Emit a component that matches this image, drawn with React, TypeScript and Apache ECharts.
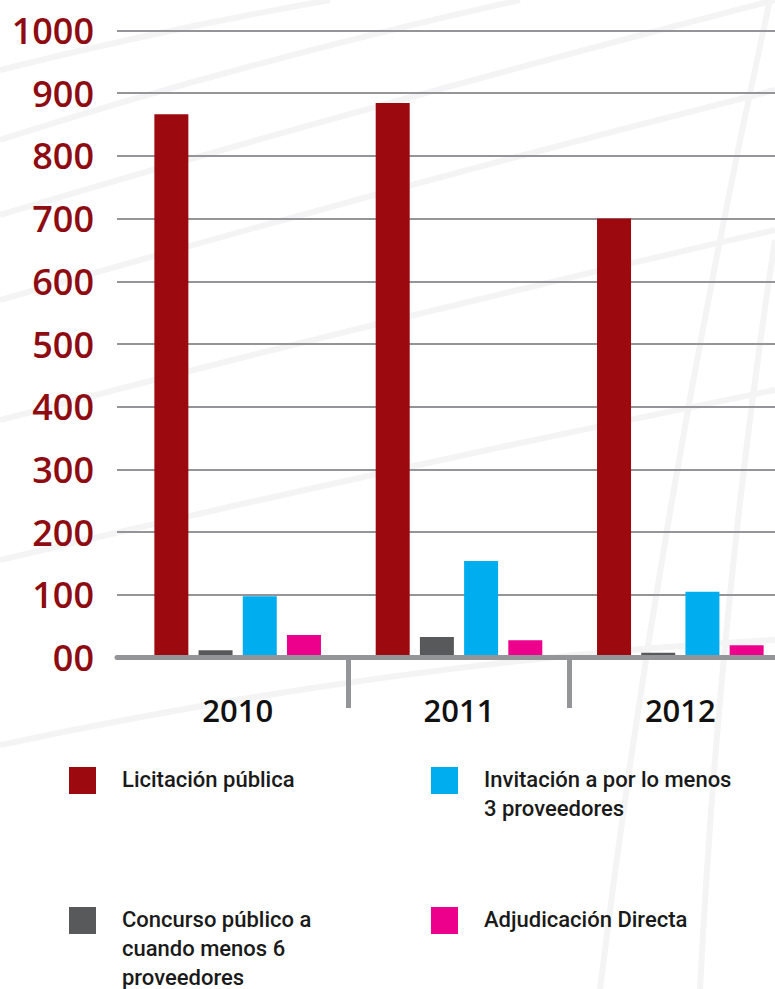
import React, { useEffect, useRef } from "react";
import * as echarts from "echarts";

const categories = ["2010", "2011", "2012"];
const seriesNames = [
  "Licitación pública",
  "Concurso público a cuando menos 6 proveedores",
  "Invitación a por lo menos 3 proveedores",
  "Adjudicación Directa",
];
const licitacion = [866, 884, 700];
const concurso = [12, 33, 8];
const invitacion = [98, 154, 105];
const adjudicacion = [36, 28, 20];
const seriesValues = [licitacion, concurso, invitacion, adjudicacion];
const seriesColors = ["#9c0a10", "#58595b", "#00aeef", "#ec008c"];

const legendLines = [
  ["Licitación pública"],
  ["Concurso público a", "cuando menos 6", "proveedores"],
  ["Invitación a por lo menos", "3 proveedores"],
  ["Adjudicación Directa"],
];
// layout slots for legend items (same order as series)
const legendSlots = [
  { x: 69, y: 767 },
  { x: 69, y: 907 },
  { x: 431, y: 767 },
  { x: 431, y: 907 },
];

const decorCurves = [
  [0, 70, 160, 30, 330, 0],
  [0, 140, 250, 60, 520, 0],
  [0, 215, 350, 110, 775, 0],
  [0, 300, 380, 190, 775, 90],
  [0, 420, 380, 320, 775, 230],
  [0, 560, 380, 470, 775, 390],
  [0, 745, 400, 660, 775, 640],
  [770, 0, 660, 500, 600, 989],
  [775, 240, 720, 600, 700, 989],
];

export default function App() {
  const ref = useRef<HTMLDivElement>(null);
  useEffect(() => {
    if (!ref.current) return;
    const chart = echarts.init(ref.current, undefined, { renderer: "svg" });

    const graphics: any[] = [];
    decorCurves.forEach((c) => {
      graphics.push({
        type: "bezierCurve",
        z: -10,
        silent: true,
        shape: { x1: c[0], y1: c[1], cpx1: c[2], cpy1: c[3], x2: c[4], y2: c[5] },
        style: { stroke: "#f4f4f4", lineWidth: 6, fill: null },
      });
    });
    seriesNames.forEach((name, i) => {
      const s = legendSlots[i];
      graphics.push({
        type: "rect",
        shape: { x: s.x, y: s.y, width: 27, height: 27 },
        style: { fill: seriesColors[i] },
      });
      graphics.push({
        type: "text",
        x: s.x + 53,
        y: s.y - 2.5,
        style: {
          text: legendLines[i].join("\n"),
          fontSize: 22,
          fontFamily: "Roboto",
          fontWeight: 500,
          fill: "#1a1a1a",
          lineHeight: 29,
          verticalAlign: "top",
          align: "left",
        },
      });
    });

    const option: any = {
      animation: false,
      backgroundColor: "#ffffff",
      grid: [
        { left: 117, right: 0, top: 30.3, height: 627.4, outerBoundsMode: "none" },
        { left: 127, width: 664, top: 30.3, height: 627.4, outerBoundsMode: "none" },
        { left: 127, width: 664, top: 658, height: 50, outerBoundsMode: "none" },
      ],
      xAxis: [
        {
          gridIndex: 0,
          type: "category",
          data: categories,
          z: 10,
          axisLine: { show: true, lineStyle: { color: "#939598", width: 5 } },
          axisTick: { show: false },
          axisLabel: { show: false },
          splitLine: { show: false },
        },
        {
          gridIndex: 1,
          type: "category",
          data: categories,
          axisLine: { show: false },
          axisTick: { show: false },
          splitLine: { show: false },
          axisLabel: {
            fontSize: 31,
            fontWeight: 600,
            fontFamily: "Open Sans",
            color: "#111111",
            margin: 52,
            verticalAlign: "middle",
          },
        },
        {
          gridIndex: 2,
          type: "category",
          data: categories,
          axisLine: { show: false },
          axisTick: { show: false },
          axisLabel: { show: false },
          splitLine: {
            show: true,
            showMinLine: false,
            showMaxLine: false,
            lineStyle: { color: "#939598", width: 5 },
          },
        },
      ],
      yAxis: [
        {
          gridIndex: 0,
          type: "value",
          min: 0,
          max: 1000,
          interval: 100,
          axisLine: { show: false },
          axisTick: { show: false },
          axisLabel: {
            formatter: (v: number) => (v === 0 ? "00" : String(v)),
            color: "#8e0b12",
            fontSize: 36,
            fontFamily: "Open Sans",
            fontWeight: 600,
            margin: 23,
          },
          splitLine: { show: true, lineStyle: { color: "#939598", width: 2 } },
        },
        { gridIndex: 1, type: "value", min: 0, max: 1000, interval: 100, show: false },
        { gridIndex: 2, type: "value", show: false },
      ],
      series: seriesNames.map((name, i) => ({
        name,
        type: "bar",
        xAxisIndex: 1,
        yAxisIndex: 1,
        data: seriesValues[i],
        barWidth: 34,
        barGap: "30%",
        itemStyle: { color: seriesColors[i] },
      })),
      graphic: graphics,
    };
    chart.setOption(option);
    return () => chart.dispose();
  }, []);
  return (
    <div
      ref={ref}
      style={{ position: "absolute", left: 0, top: 0, width: 775, height: 989 }}
    />
  );
}
